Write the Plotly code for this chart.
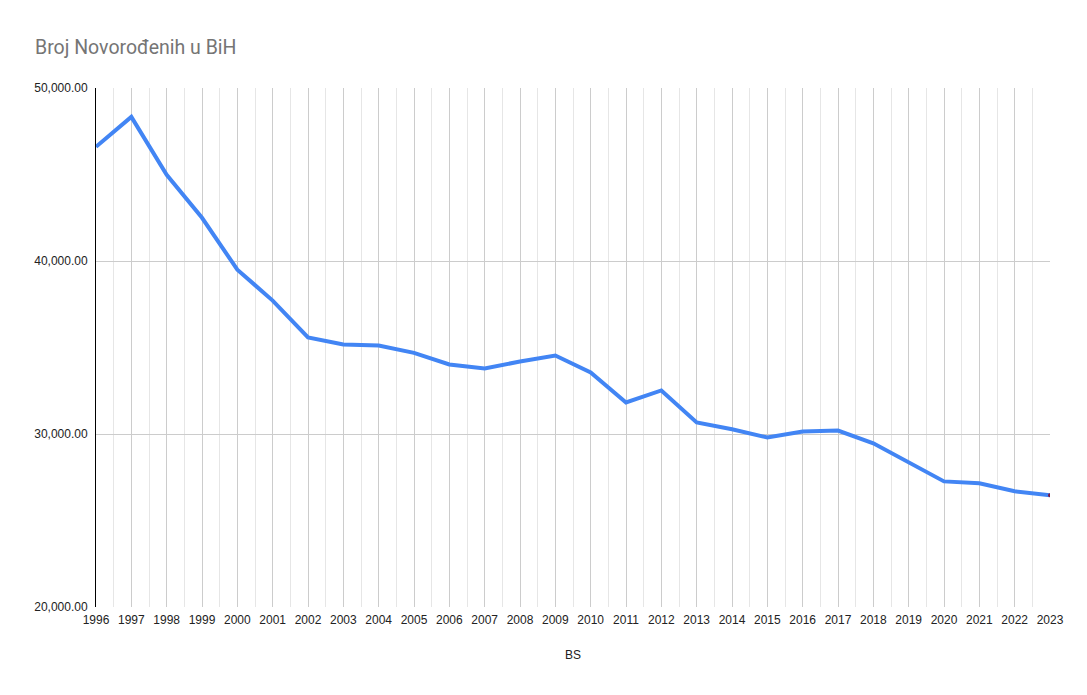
import plotly.graph_objects as go

# broj živorođenih po godinama (očitano s grafikona)
godine = list(range(1996, 2024))
rodjeni = [46600, 48330, 44980, 42500, 39500, 37710, 35580, 35170, 35110,
           34690, 34020, 33790, 34190, 34540, 33560, 31820, 32520, 30670,
           30270, 29800, 30150, 30200, 29460, 28360, 27260, 27150, 26690,
           26460]

naslov = "Broj Novorođenih u BiH"
x_naslov = "BS"

fig = go.Figure()
fig.add_trace(go.Scatter(x=godine, y=rodjeni, mode="lines",
                         line=dict(color="#4285F4", width=4),
                         hoverinfo="x+y", showlegend=False))
# tacka na kraju linije
fig.add_trace(go.Scatter(x=godine[-1:], y=rodjeni[-1:], mode="markers",
                         marker=dict(color="#7a1e48", size=4),
                         hoverinfo="skip", showlegend=False))

# stranica ima 8px margine u body, pa je figura malo manja
W, H = 1079, 687
fig.update_layout(
    width=W, height=H,
    margin=dict(l=88, r=37, t=80, b=88),
    paper_bgcolor="white", plot_bgcolor="white",
    title=dict(text=naslov, x=27 / W, xanchor="left", y=1 - 39 / H,
               yanchor="middle",
               font=dict(family="Roboto, Arial, sans-serif", size=19.5,
                         color="#757575")),
    font=dict(family="Liberation Sans, Arial, sans-serif", size=12,
              color="#222222"),
    xaxis=dict(
        range=[1996, 2023], tickmode="linear", tick0=1996, dtick=1,
        tickformat="d", showgrid=True, gridcolor="#cccccc", gridwidth=1,
        minor=dict(dtick=0.5, showgrid=True, gridcolor="#e6e6e6"),
        zeroline=False, showline=False, ticks="", ticklabelstandoff=4,
        title=dict(text=x_naslov, standoff=24,
                   font=dict(size=12, color="#222222")),
    ),
    yaxis=dict(
        range=[20000, 50000], tickmode="linear", tick0=20000, dtick=10000,
        tickformat=",.2f", showgrid=True, gridcolor="#cccccc", gridwidth=1,
        zeroline=False, showline=True, linecolor="#000000", linewidth=1,
        ticks="", ticklabelstandoff=5,
    ),
)

fig.write_html("out.html")
